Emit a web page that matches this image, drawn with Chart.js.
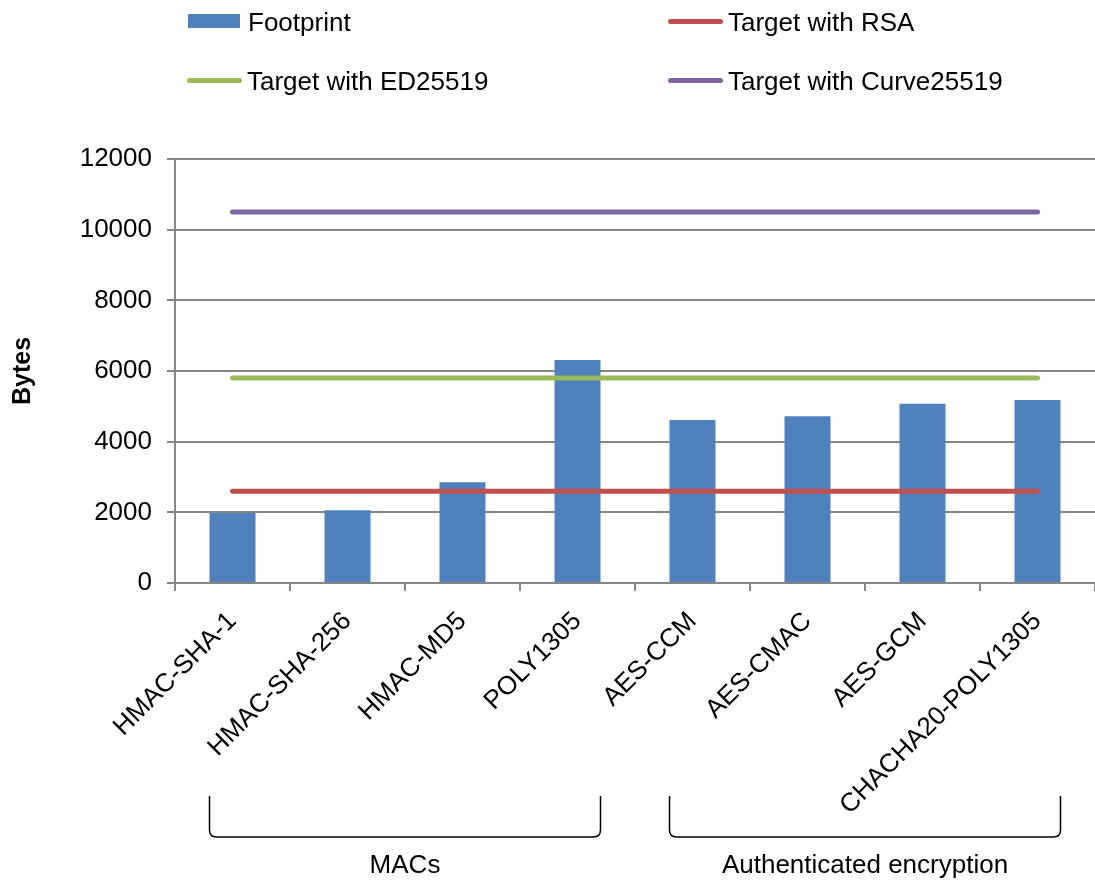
<!DOCTYPE html>
<html>
<head>
<meta charset="utf-8">
<script src="https://cdn.jsdelivr.net/npm/chart.js@4"></script>
<style>
  body { margin: 0; background: #fff; }
  #wrap { position: relative; width: 1095px; height: 884px; }
  #canvas { position: absolute; left: 0; top: 0; }
  .key { position: absolute; }
  .keyLine { height: 5px; border-radius: 3px; }
  .txt { position: absolute; font: 26px "Liberation Sans", Arial, sans-serif; line-height: 26px; color: #000; white-space: nowrap; }
</style>
</head>
<body>
<div id="wrap">
  <canvas id="canvas" width="1095" height="884"></canvas>
  <div id="legend"></div>
</div>
<script>
// Data
const categories = ["HMAC-SHA-1", "HMAC-SHA-256", "HMAC-MD5", "POLY1305", "AES-CCM", "AES-CMAC", "AES-GCM", "CHACHA20-POLY1305"];
const footprint = [1980, 2060, 2850, 6310, 4610, 4720, 5070, 5180];
const targetRsa = [2600, 2600, 2600, 2600, 2600, 2600, 2600, 2600];
const targetEd25519 = [5800, 5800, 5800, 5800, 5800, 5800, 5800, 5800];
const targetCurve25519 = [10500, 10500, 10500, 10500, 10500, 10500, 10500, 10500];
const yTicks = [0, 2000, 4000, 6000, 8000, 10000, 12000];

// groups shown under the category labels
const groupLabels = ["MACs", "Authenticated encryption"];
const groupStart = [0, 4];
const groupEnd = [3, 7];

const FONT = "'Liberation Sans', Arial, sans-serif";
const GRID = "#868686";
const BLUE = "#4F81BD", RED = "#C0504D", GREEN = "#9BBB59", PURPLE = "#8064A2";

// legend (2 x 2 grid above the plot)
const legendItems = [
    { text: "Footprint", color: BLUE, bar: true, x: 188, y: 21 },
    { text: "Target with RSA", color: RED, bar: false, x: 668, y: 21 },
    { text: "Target with ED25519", color: GREEN, bar: false, x: 187, y: 80 },
    { text: "Target with Curve25519", color: PURPLE, bar: false, x: 668, y: 80 }
];
const legend = document.getElementById("legend");
legendItems.forEach(item => {
    const key = document.createElement("div");
    key.className = item.bar ? "key" : "key keyLine";
    key.style.background = item.color;
    key.style.left = item.x + "px";
    if (item.bar) {
        key.style.width = "52px";
        key.style.height = "14px";
        key.style.top = (item.y - 7) + "px";
    } else {
        key.style.width = "55px";
        key.style.top = (item.y - 2.5) + "px";
    }
    legend.appendChild(key);
    const txt = document.createElement("div");
    txt.className = "txt";
    txt.textContent = item.text;
    txt.style.left = (item.x + 60) + "px";
    txt.style.top = (item.y - 12) + "px";
    legend.appendChild(txt);
});

// brackets + group names below the x axis
const groupBrackets = {
    id: "groupBrackets",
    afterDraw(chart) {
        const ctx = chart.ctx;
        const bars = chart.getDatasetMeta(0).data;
        const top = 796, bot = 837, r = 7;
        ctx.save();
        ctx.strokeStyle = "#000";
        ctx.lineWidth = 1.5;
        ctx.fillStyle = "#000";
        ctx.font = "26px " + FONT;
        ctx.textAlign = "center";
        ctx.textBaseline = "middle";
        for (let g = 0; g < groupLabels.length; g++) {
            const a = bars[groupStart[g]];
            const b = bars[groupEnd[g]];
            const x0 = a.x - a.width / 2;
            const x1 = b.x + b.width / 2;
            ctx.beginPath();
            ctx.moveTo(x0, top);
            ctx.lineTo(x0, bot - r);
            ctx.quadraticCurveTo(x0, bot, x0 + r, bot);
            ctx.lineTo(x1 - r, bot);
            ctx.quadraticCurveTo(x1, bot, x1, bot - r);
            ctx.lineTo(x1, top);
            ctx.stroke();
            ctx.fillText(groupLabels[g], (x0 + x1) / 2, 866);
        }
        ctx.restore();
    }
};

function lineSet(label, data, color) {
    return {
        type: "line",
        label: label,
        data: data,
        borderColor: color,
        backgroundColor: color,
        borderWidth: 5,
        borderCapStyle: "round",
        pointRadius: 0,
        fill: false,
        order: 0
    };
}

const chart = new Chart(document.getElementById("canvas").getContext("2d"), {
    type: "bar",
    data: {
        labels: categories,
        datasets: [
            {
                label: "Footprint",
                data: footprint,
                backgroundColor: BLUE,
                categoryPercentage: 1,
                barPercentage: 0.4,
                order: 1
            },
            lineSet("Target with RSA", targetRsa, RED),
            lineSet("Target with ED25519", targetEd25519, GREEN),
            lineSet("Target with Curve25519", targetCurve25519, PURPLE)
        ]
    },
    plugins: [groupBrackets],
    options: {
        responsive: false,
        animation: false,
        layout: { padding: { top: 159, left: 0, right: 0, bottom: 0 } },
        plugins: {
            legend: { display: false },
            tooltip: { enabled: false }
        },
        scales: {
            x: {
                offset: true,
                grid: { offset: true, drawOnChartArea: false, drawTicks: true, tickLength: 8, color: GRID, lineWidth: 2 },
                border: { color: GRID, width: 2 },
                ticks: { autoSkip: false, minRotation: 45, maxRotation: 45, padding: 15, color: "#000", font: { family: FONT, size: 26 } },
                afterFit: s => { s.height = 301; }
            },
            y: {
                min: 0,
                max: 12000,
                afterBuildTicks: s => { s.ticks = yTicks.map(v => ({ value: v })); },
                grid: { color: GRID, lineWidth: 2, tickLength: 8 },
                border: { color: GRID, width: 2 },
                ticks: { padding: 15, color: "#000", font: { family: FONT, size: 26 }, callback: v => String(v) },
                title: { display: true, text: "Bytes", color: "#000", font: { family: FONT, size: 25, weight: "bold" }, padding: { top: 8, bottom: 0 } },
                afterFit: s => { s.width = 175; }
            }
        }
    }
});
</script>
</body>
</html>
